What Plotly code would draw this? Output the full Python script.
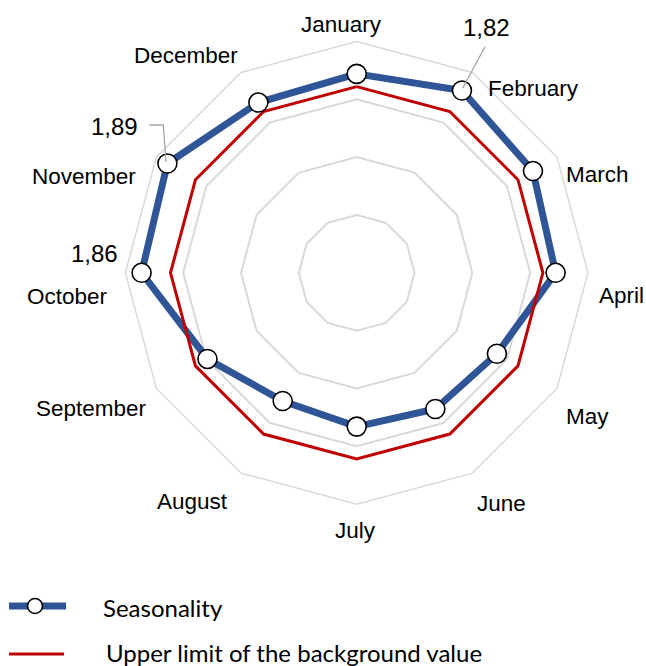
import plotly.graph_objects as go

W, H = 646, 666

months = ["January", "February", "March", "April", "May", "June",
          "July", "August", "September", "October", "November", "December"]
seasonality = [1.72, 1.82, 1.76, 1.72, 1.40, 1.36, 1.33, 1.28, 1.49, 1.86, 1.89, 1.70]
upper_limit = [1.61, 1.61, 1.61, 1.61, 1.61, 1.61, 1.61, 1.61, 1.61, 1.61, 1.61, 1.61]
radial_ticks = [0.5, 1.0, 1.5, 2.0]
labelled_points = {"February": "1,82", "November": "1,89", "October": "1,86"}

series_names = ["Seasonality", "Upper limit of the background value"]

BLUE = "#2F5597"
RED = "#C00000"
GRID = "#D9D9D9"
LEADER = "#A6A6A6"


def px(x):
    return x / W


def py(y):
    return 1 - y / H


theta = months + [months[0]]
fig = go.Figure()
fig.add_trace(go.Scatterpolar(
    r=seasonality + [seasonality[0]], theta=theta, mode="lines",
    line=dict(color=BLUE, width=7), name=series_names[0], showlegend=False))
fig.add_trace(go.Scatterpolar(
    r=upper_limit + [upper_limit[0]], theta=theta, mode="lines",
    line=dict(color=RED, width=3), name=series_names[1], showlegend=False))
fig.add_trace(go.Scatterpolar(
    r=seasonality, theta=months, mode="markers",
    marker=dict(size=19, color="white", line=dict(color="black", width=1.6)),
    showlegend=False, hoverinfo="skip"))

cx, cy, R = 356.7, 272.8, 231.3
fig.update_layout(
    width=W, height=H, margin=dict(l=0, r=0, t=0, b=0),
    paper_bgcolor="white", showlegend=False,
    polar=dict(
        domain=dict(x=[px(cx - R), px(cx + R)], y=[py(cy + R), py(cy - R)]),
        bgcolor="white",
        gridshape="linear",
        radialaxis=dict(range=[0, 2], tickvals=radial_ticks, showticklabels=False,
                        ticks="", showline=False, gridcolor=GRID, gridwidth=1.5),
        angularaxis=dict(rotation=90, direction="clockwise", showgrid=False,
                         showticklabels=False, ticks="", showline=True,
                         linecolor=GRID, linewidth=1.5),
    ),
)

# month labels (Excel-like placement)
label_pos = {
    "January": (341.5, 24.7), "February": (533.3, 88.7), "March": (597.5, 174),
    "April": (621, 295.2), "May": (587.5, 416.2), "June": (501.7, 503.8),
    "July": (355.5, 530.8), "August": (192, 501.3), "September": (91.8, 408),
    "October": (67.8, 296.7), "November": (84.2, 176.7), "December": (186, 55.5),
}
annotations = []
for m in months:
    x, y = label_pos[m]
    annotations.append(dict(x=px(x), y=py(y), xref="paper", yref="paper", text=m,
                            showarrow=False, xanchor="center", yanchor="middle",
                            font=dict(family="Liberation Sans, Arial", size=22.5, color="black")))

# data labels
data_label_pos = {"February": (486, 27), "November": (114, 126.7), "October": (94.5, 253.7)}
for m, t in labelled_points.items():
    x, y = data_label_pos[m]
    annotations.append(dict(x=px(x), y=py(y), xref="paper", yref="paper", text=t,
                            showarrow=False, xanchor="center", yanchor="middle",
                            font=dict(family="Liberation Sans, Arial", size=24, color="black")))

# legend text
legend_font = dict(family="Lato", size=24, color="black")
annotations.append(dict(x=px(101), y=py(607), xref="paper", yref="paper", text=series_names[0],
                        showarrow=False, xanchor="left", yanchor="middle", font=legend_font))
annotations.append(dict(x=px(104), y=py(652), xref="paper", yref="paper", text=series_names[1],
                        showarrow=False, xanchor="left", yanchor="middle", font=legend_font))

shapes = [
    # leader lines
    dict(type="line", xref="paper", yref="paper", x0=px(485), y0=py(46.7), x1=px(462.7), y1=py(88.3),
         line=dict(color=LEADER, width=1.3)),
    dict(type="path", xref="paper", yref="paper",
         path=f"M {px(149.3)} {py(125)} L {px(163.3)} {py(125)} L {px(166)} {py(162)}",
         line=dict(color=LEADER, width=1.3)),
    # legend symbols
    dict(type="line", xref="paper", yref="paper", x0=px(9), y0=py(606), x1=px(66), y1=py(606),
         line=dict(color=BLUE, width=7)),
    dict(type="circle", xref="paper", yref="paper", xsizemode="pixel", ysizemode="pixel",
         xanchor=px(35), yanchor=py(606), x0=-7.5, x1=7.5, y0=-7.5, y1=7.5,
         fillcolor="white", line=dict(color="black", width=1.6)),
    dict(type="line", xref="paper", yref="paper", x0=px(9), y0=py(654), x1=px(64), y1=py(654),
         line=dict(color=RED, width=3)),
]
fig.update_layout(annotations=annotations, shapes=shapes)

fig.write_html("out.html")
